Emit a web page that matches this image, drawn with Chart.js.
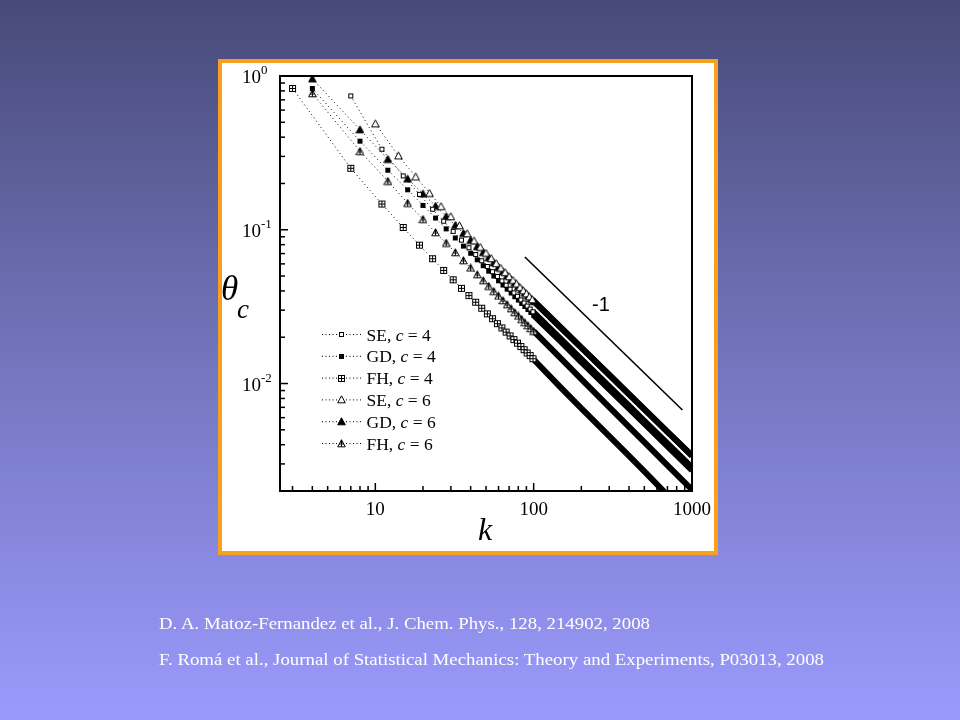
<!DOCTYPE html>
<html>
<head>
<meta charset="utf-8">
<script src="https://cdn.jsdelivr.net/npm/chart.js@4.4.0/dist/chart.umd.min.js"></script>
<style>
  html, body { margin: 0; padding: 0; }
  body {
    width: 960px; height: 720px; overflow: hidden; position: relative;
    background: linear-gradient(to bottom, #474a78 0%, #7375bd 50%, #9a9afd 100%);
    font-family: "Liberation Serif", serif;
  }
  .frame {
    position: absolute; left: 218px; top: 59px; width: 500px; height: 496px;
    box-sizing: border-box; border: 4px solid #f5a01e; background: #fff;
  }
  #wrap { position: absolute; left: 0; top: 0; width: 960px; height: 720px; }
  .ref {
    position: absolute; left: 159px; color: #fff; font-size: 17px; line-height: 20px;
    white-space: nowrap; transform-origin: left center;
  }
</style>
</head>
<body>
<div class="frame"></div>
<div id="wrap"><canvas id="chart" width="960" height="720"></canvas></div>
<div class="ref" style="top:614px" data-w="491">D. A. Matoz-Fernandez et al., J. Chem. Phys., 128, 214902, 2008</div>
<div class="ref" style="top:650px" data-w="665">F. Romá et al., Journal of Statistical Mechanics: Theory and Experiments, P03013, 2008</div>

<script>
// theta_c vs k (log-log)

// SE, c = 4 (open squares)
const kSE4 = [7, 11, 15, 19, 23, 27, 31, 35, 39, 43, 47, 51, 55, 59, 63, 67, 71, 75, 79, 83, 87, 91, 95, 99,
  150, 200, 300, 400, 500, 700, 1000];
const thSE4 = [0.742, 0.334, 0.224, 0.170, 0.136, 0.1137, 0.0977, 0.0857, 0.0764, 0.0690, 0.0629, 0.0577,
  0.0534, 0.0497, 0.0465, 0.0436, 0.0411, 0.0389, 0.0369, 0.0350, 0.0334, 0.0319, 0.0305, 0.0293,
  0.0193, 0.0144, 0.00958, 0.00717, 0.00572, 0.00408, 0.00285];

// GD, c = 4 (filled squares)
const kGD4 = [4, 8, 12, 16, 20, 24, 28, 32, 36, 40, 44, 48, 52, 56, 60, 64, 68, 72, 76, 80, 84, 88, 92, 96, 100,
  150, 200, 300, 400, 500, 700, 1000];
const thGD4 = [0.83, 0.377, 0.244, 0.182, 0.144, 0.1192, 0.1014, 0.0884, 0.0783, 0.0703, 0.0638, 0.0584,
  0.0538, 0.0500, 0.0466, 0.0437, 0.0411, 0.0388, 0.0367, 0.0349, 0.0332, 0.0317, 0.0303, 0.0290, 0.0278,
  0.0185, 0.0138, 0.00918, 0.00687, 0.00549, 0.00391, 0.00272];

// FH, c = 4 (crossed squares)
const kFH4 = [3, 7, 11, 15, 19, 23, 27, 31, 35, 39, 43, 47, 51, 55, 59, 63, 67, 71, 75, 79, 83, 87, 91, 95, 99,
  150, 200, 300, 400, 500, 700];
const thFH4 = [0.83, 0.251, 0.147, 0.1035, 0.0794, 0.0648, 0.0544, 0.0473, 0.0416, 0.0373, 0.0338, 0.0309,
  0.0284, 0.0264, 0.0245, 0.0230, 0.0216, 0.0204, 0.0193, 0.0183, 0.0174, 0.0166, 0.0158, 0.0152, 0.0145,
  0.0093, 0.0069, 0.00455, 0.00338, 0.00268, 0.00188];

// SE, c = 6 (open triangles)
const kSE6 = [10, 14, 18, 22, 26, 30, 34, 38, 42, 46, 50, 54, 58, 62, 66, 70, 74, 78, 82, 86, 90, 94, 98,
  150, 200, 300, 400, 500, 700, 1000];
const thSE6 = [0.49, 0.303, 0.221, 0.173, 0.142, 0.122, 0.1065, 0.0945, 0.0849, 0.0771, 0.0706, 0.0651,
  0.0604, 0.0564, 0.0528, 0.0497, 0.0470, 0.0445, 0.0422, 0.0402, 0.0384, 0.0367, 0.0352,
  0.0229, 0.0171, 0.01137, 0.00851, 0.0068, 0.00485, 0.00339];

// GD, c = 6 (filled triangles)
const kGD6 = [4, 8, 12, 16, 20, 24, 28, 32, 36, 40, 44, 48, 52, 56, 60, 64, 68, 72, 76, 80, 84, 88, 92, 96, 100,
  150, 200, 300, 400, 500, 700, 1000];
const thGD6 = [0.96, 0.448, 0.288, 0.2145, 0.1715, 0.1427, 0.1223, 0.1070, 0.0950, 0.0855, 0.0778, 0.0713,
  0.0658, 0.0611, 0.0570, 0.0534, 0.0503, 0.0475, 0.0450, 0.0428, 0.0407, 0.0389, 0.0372, 0.0356, 0.0342,
  0.0228, 0.0171, 0.0114, 0.00852, 0.00681, 0.00485, 0.0034];

// FH, c = 6 (crossed triangles)
const kFH6 = [4, 8, 12, 16, 20, 24, 28, 32, 36, 40, 44, 48, 52, 56, 60, 64, 68, 72, 76, 80, 84, 88, 92, 96, 100,
  150, 200, 300, 400, 500, 700, 1000];
const thFH6 = [0.77, 0.324, 0.207, 0.149, 0.117, 0.096, 0.082, 0.0712, 0.0631, 0.0565, 0.0511, 0.0467,
  0.0430, 0.0398, 0.0371, 0.0347, 0.0326, 0.0307, 0.0290, 0.0275, 0.0262, 0.0249, 0.0238, 0.0228, 0.0219,
  0.0144, 0.0107, 0.00703, 0.00523, 0.00416, 0.00294, 0.00204];

// reference slope -1 line
const slopeK = [88, 870];
const slopeTh = [0.0665, 0.00673];

// axis ticks
const xMajor = [10, 100, 1000];
const xMinor = [3, 4, 5, 6, 7, 8, 9, 20, 30, 40, 50, 60, 70, 80, 90, 200, 300, 400, 500, 600, 700, 800, 900];
const yMajorExp = [0, -1, -2];
const yMinor = [0.002, 0.003, 0.004, 0.005, 0.006, 0.007, 0.008, 0.009,
  0.02, 0.03, 0.04, 0.05, 0.06, 0.07, 0.08, 0.09, 0.2, 0.3, 0.4, 0.5, 0.6, 0.7, 0.8, 0.9];

const legendNames = ['SE', 'GD', 'FH', 'SE', 'GD', 'FH'];
const legendC = ['4', '4', '4', '6', '6', '6'];

// marker images
function makeMarker(kind) {
  const c = document.createElement('canvas');
  c.width = 9; c.height = 9;
  const g = c.getContext('2d');
  g.strokeStyle = '#000'; g.fillStyle = '#000'; g.lineWidth = 1;
  if (kind === 'sqOpen') {
    g.fillStyle = '#fff'; g.fillRect(2, 2, 5, 5);
    g.strokeRect(2.5, 2.5, 4, 4);
  } else if (kind === 'sqFill') {
    g.fillRect(2, 2, 5, 5);
  } else if (kind === 'sqCross') {
    g.fillStyle = '#fff'; g.fillRect(1, 1, 7, 7);
    g.strokeRect(1.5, 1.5, 6, 6);
    g.beginPath(); g.moveTo(4.5, 1.5); g.lineTo(4.5, 7.5); g.moveTo(1.5, 4.5); g.lineTo(7.5, 4.5); g.stroke();
  } else {
    g.beginPath(); g.moveTo(4.5, 0.8); g.lineTo(8.3, 7.8); g.lineTo(0.7, 7.8); g.closePath();
    if (kind === 'triFill') {
      g.fill(); g.stroke();
    } else {
      g.fillStyle = '#fff'; g.fill(); g.stroke();
      if (kind === 'triCross') {
        g.beginPath(); g.moveTo(4.5, 0.8); g.lineTo(4.5, 7.8); g.moveTo(2.2, 5); g.lineTo(6.8, 5); g.stroke();
        g.fillStyle = '#000'; g.beginPath(); g.moveTo(4.5, 0.8); g.lineTo(6, 3.5); g.lineTo(3, 3.5); g.closePath(); g.fill();
      }
    }
  }
  return c;
}

const markers = [makeMarker('sqOpen'), makeMarker('sqFill'), makeMarker('sqCross'),
  makeMarker('triOpen'), makeMarker('triFill'), makeMarker('triCross')];

function series(ks, ths, marker) {
  return {
    data: ks.map((k, i) => ({ x: k, y: ths[i] })),
    showLine: true,
    borderColor: '#000',
    borderWidth: 1,
    borderDash: [1, 3],
    pointStyle: marker,
    pointRadius: ctx => (ctx.raw && ctx.raw.x > 101 ? 0 : 3),
    segment: {
      borderWidth: ctx => (ctx.p1.parsed.x > 101 ? 6 : 1),
      borderDash: ctx => (ctx.p1.parsed.x > 101 ? [] : [1, 3])
    },
    clip: 0
  };
}

const datasets = [
  series(kSE4, thSE4, markers[0]),
  series(kGD4, thGD4, markers[1]),
  series(kFH4, thFH4, markers[2]),
  series(kSE6, thSE6, markers[3]),
  series(kGD6, thGD6, markers[4]),
  series(kFH6, thFH6, markers[5]),
  {
    data: slopeK.map((k, i) => ({ x: k, y: slopeTh[i] })),
    showLine: true, borderColor: '#000', borderWidth: 1.6, pointRadius: 0, clip: 0
  }
];

function line(ctx, x1, y1, x2, y2) {
  ctx.beginPath(); ctx.moveTo(x1, y1); ctx.lineTo(x2, y2); ctx.stroke();
}

// frame, inward ticks, labels, titles and legend
const decor = {
  id: 'decor',
  afterDatasetsDraw(chart) {
    const ctx = chart.ctx;
    const a = chart.chartArea;
    const x = chart.scales.x, y = chart.scales.y;
    ctx.save();
    ctx.strokeStyle = '#000';
    ctx.fillStyle = '#000';

    ctx.lineWidth = 1.5;
    xMinor.forEach(v => { const p = x.getPixelForValue(v); line(ctx, p, a.bottom, p, a.bottom - 5); });
    xMajor.forEach(v => { const p = x.getPixelForValue(v); line(ctx, p, a.bottom, p, a.bottom - 8); });
    yMinor.forEach(v => { const p = y.getPixelForValue(v); line(ctx, a.left, p, a.left + 5, p); });
    yMajorExp.forEach(e => { const p = y.getPixelForValue(Math.pow(10, e)); line(ctx, a.left, p, a.left + 8, p); });

    ctx.lineWidth = 2;
    ctx.strokeRect(a.left, a.top, a.right - a.left, a.bottom - a.top);

    // x tick labels
    ctx.font = '19px "Liberation Serif"';
    ctx.textAlign = 'center';
    ctx.textBaseline = 'alphabetic';
    xMajor.forEach(v => ctx.fillText(String(v), x.getPixelForValue(v), a.bottom + 24));

    // y tick labels 10^n
    yMajorExp.forEach(e => {
      const p = y.getPixelForValue(Math.pow(10, e));
      ctx.font = '19px "Liberation Serif"';
      ctx.textAlign = 'right';
      ctx.fillText('10', a.left - 19, p + 7);
      ctx.font = '13px "Liberation Serif"';
      ctx.textAlign = 'left';
      ctx.fillText(String(e), a.left - 19, p - 2);
    });

    // axis titles
    ctx.textAlign = 'left';
    ctx.font = 'italic 35px "Liberation Serif"';
    ctx.fillText('θ', 221, 300);
    ctx.font = 'italic 27px "Liberation Serif"';
    ctx.fillText('c', 237, 318);
    ctx.textAlign = 'center';
    ctx.font = 'italic 32px "Liberation Serif"';
    ctx.fillText('k', 485, 540);

    // slope label
    ctx.textAlign = 'left';
    ctx.font = '20px "Liberation Sans"';
    ctx.fillText('-1', 592, 311);

    // legend
    legendNames.forEach((name, i) => {
      const cy = 334.5 + i * 21.8;
      ctx.lineWidth = 1;
      ctx.setLineDash([1, 2.5]);
      line(ctx, 322, cy, 337, cy);
      line(ctx, 346, cy, 362, cy);
      ctx.setLineDash([]);
      const m = markers[i];
      ctx.drawImage(m, Math.round(341.5 - m.width / 2), Math.round(cy - m.height / 2));
      let tx = 366.5;
      const by = cy + 6;
      ctx.font = '17.5px "Liberation Serif"';
      ctx.fillText(name + ', ', tx, by);
      tx += ctx.measureText(name + ', ').width;
      ctx.font = 'italic 17.5px "Liberation Serif"';
      ctx.fillText('c', tx, by);
      tx += ctx.measureText('c').width;
      ctx.font = '17.5px "Liberation Serif"';
      ctx.fillText(' = ' + legendC[i], tx, by);
    });
    ctx.restore();
  }
};

new Chart(document.getElementById('chart'), {
  type: 'scatter',
  data: { datasets: datasets },
  options: {
    responsive: false,
    animation: false,
    events: [],
    layout: { padding: { left: 280, top: 76, right: 268, bottom: 229 } },
    plugins: { legend: { display: false }, tooltip: { enabled: false } },
    scales: {
      x: { type: 'logarithmic', min: 2.5, max: 1000, display: false },
      y: { type: 'logarithmic', min: 0.002, max: 1, display: false }
    }
  },
  plugins: [decor]
});

// fit the reference lines to their width in the original slide
document.querySelectorAll('.ref').forEach(el => {
  const w = el.getBoundingClientRect().width;
  el.style.transform = 'scaleX(' + (+el.dataset.w / w).toFixed(4) + ')';
});
</script>
</body>
</html>
